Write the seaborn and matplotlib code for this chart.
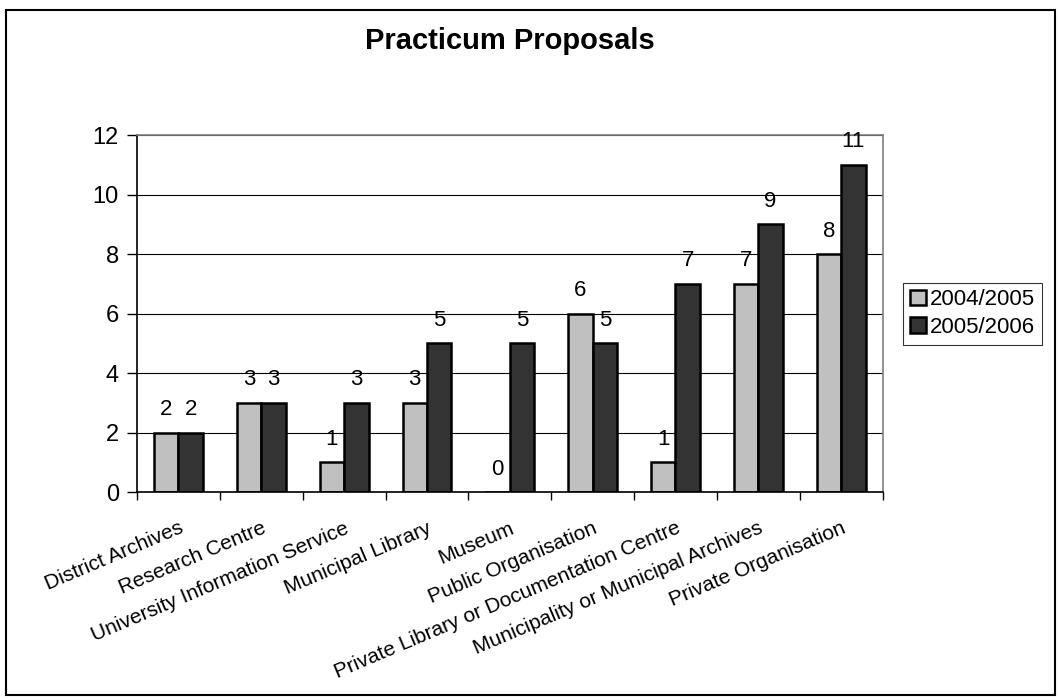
import pandas as pd
import seaborn as sns
import matplotlib.pyplot as plt
from matplotlib.patches import Rectangle

# chart data
categories = ['District Archives', 'Research Centre', 'University Information Service',
              'Municipal Library', 'Museum', 'Public Organisation',
              'Private Library or Documentation Centre',
              'Municipality or Municipal Archives', 'Private Organisation']
years = ['2004/2005', '2005/2006']
values_2004 = [2, 3, 1, 3, 0, 6, 1, 7, 8]
values_2005 = [2, 3, 3, 5, 5, 5, 7, 9, 11]
colors = ['#C0C0C0', '#333333']

data = pd.DataFrame({
    'Category': categories * 2,
    'Year': [years[0]] * len(categories) + [years[1]] * len(categories),
    'Count': values_2004 + values_2005,
})

sns.set_style('white')
plt.rcParams['font.family'] = ['Liberation Sans', 'DejaVu Sans']
plt.rcParams['text.color'] = 'black'
plt.rcParams['xtick.color'] = 'black'
plt.rcParams['ytick.color'] = 'black'
plt.rcParams['axes.labelcolor'] = 'black'

fig = plt.figure(figsize=(10.59, 7.0), dpi=100)
ax = fig.add_axes([0.1294, 0.297, 0.7040, 0.510])

sns.barplot(data=data, x='Category', y='Count', hue='Year', palette=colors,
            width=0.59, edgecolor='black', linewidth=1.8, ax=ax, legend=True)

for c in ax.containers:
    ax.bar_label(c, fontsize=16, padding=9, color='black')

ax.set_ylim(0, 12)
ax.set_xlim(-0.5, len(categories) - 0.5)
ax.set_yticks(range(0, 13, 2))
ax.yaxis.grid(True, color='black', linewidth=0.8)
ax.set_axisbelow(True)
ax.set_xlabel('')
ax.set_ylabel('')

for s in ['top', 'right']:
    ax.spines[s].set_color('#808080')
    ax.spines[s].set_linewidth(1.2)
for s in ['left', 'bottom']:
    ax.spines[s].set_color('black')
    ax.spines[s].set_linewidth(1.2)

ax.tick_params(axis='y', labelsize=17, length=7, width=1, left=True, direction='out', pad=6,
               colors='black')
ax.tick_params(axis='x', which='major', length=0, pad=19, colors='black')
ax.set_xticks([i - 0.5 for i in range(len(categories) + 1)], minor=True)
ax.tick_params(axis='x', which='minor', length=6, width=1, bottom=True, direction='out')
ax.set_xticks(range(len(categories)))
ax.set_xticklabels(categories, rotation=23, ha='right', rotation_mode='anchor', fontsize=15)

ax.set_title('Practicum Proposals', fontsize=21, fontweight='bold', pad=62, color='black')

leg = ax.legend(loc='center left', bbox_to_anchor=(1.028, 0.5), fontsize=16, frameon=True,
                fancybox=False, edgecolor='black', handlelength=0.7, handleheight=0.7,
                handletextpad=0.2, borderpad=0.3, labelspacing=0.3, borderaxespad=0)
leg.get_frame().set_linewidth(0.8)
for t in leg.get_texts():
    t.set_color('black')

fig.patches.append(Rectangle((0.0057, 0.007), 0.9905, 0.979, transform=fig.transFigure,
                             fill=False, edgecolor='black', linewidth=1.5))

fig.savefig('out.png', dpi=100)
